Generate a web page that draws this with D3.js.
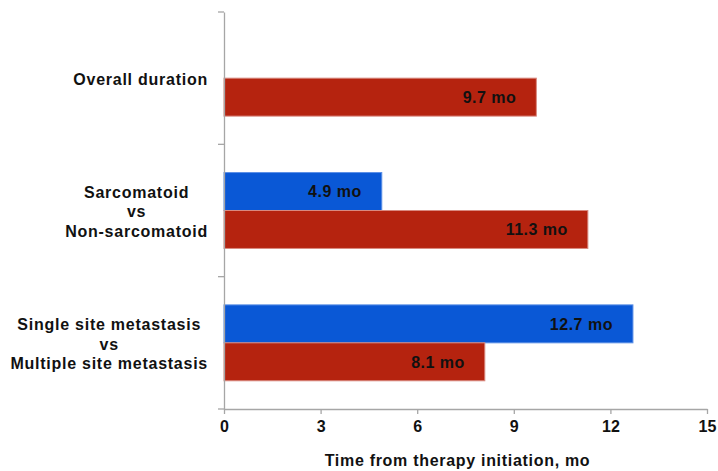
<!DOCTYPE html>
<html>
<head>
<meta charset="utf-8">
<script src="https://cdn.jsdelivr.net/npm/d3@7"></script>
<style>
  body { margin: 0; background: #fff; }
  text { font-family: Arial, "Liberation Sans", sans-serif; font-weight: bold; fill: #111; }
  .axis path, .axis line { stroke: #a6a6a6; stroke-width: 1.3; }
</style>
</head>
<body>
<div id="chart"></div>
<script>
var svgWidth = 718;
var svgHeight = 471;

var margin = { top: 12, right: 11, bottom: 62, left: 224 };

var width = svgWidth - margin.left - margin.right;
var height = svgHeight - margin.top - margin.bottom;

// chart data
var categories = ["Overall duration", "Sarcomatoid vs Non-sarcomatoid", "Single site metastasis vs Multiple site metastasis"];
var categoryLines = [["Overall duration"], ["Sarcomatoid", "vs", "Non-sarcomatoid"], ["Single site metastasis", "vs", "Multiple site metastasis"]];
var seriesNames = ["first", "second"];
var firstValues = [null, 4.9, 12.7];
var secondValues = [9.7, 11.3, 8.1];
var xTicks = [0, 3, 6, 9, 12, 15];
var xTitle = "Time from therapy initiation, mo";

var colors = { first: "#0a58d6", second: "#b5230f" };
var strokes = { first: "#5b8fe6", second: "#d98a80" };

var svg = d3.select("#chart")
  .append("svg")
  .attr("width", svgWidth)
  .attr("height", svgHeight);

var chartGroup = svg.append("g")
  .attr("transform", `translate(${margin.left}, ${margin.top})`);

var xScale = d3.scaleLinear()
  .domain([0, 15])
  .range([0, width]);

var yScale = d3.scaleBand()
  .domain(categories)
  .range([0, height])
  .paddingInner(0.4264)
  .paddingOuter(0.2132);

var subScale = d3.scaleBand()
  .domain(seriesNames)
  .range([0, yScale.bandwidth()]);

// bars
var rows = categories.map(function(c, i) {
  return [
    { cat: c, key: "first", value: firstValues[i] },
    { cat: c, key: "second", value: secondValues[i] }
  ];
});

var groups = chartGroup.selectAll(".cat")
  .data(rows)
  .enter()
  .append("g")
  .attr("class", "cat")
  .attr("transform", (d, i) => `translate(0, ${yScale(categories[i])})`);

var bars = groups.selectAll("g.bar")
  .data(d => d.filter(b => b.value !== null))
  .enter()
  .append("g")
  .attr("class", "bar");

bars.append("rect")
  .attr("x", xScale(0))
  .attr("y", d => subScale(d.key))
  .attr("width", d => xScale(d.value) - xScale(0))
  .attr("height", subScale.bandwidth())
  .attr("fill", d => colors[d.key])
  .attr("stroke", d => strokes[d.key])
  .attr("stroke-width", 1);

bars.append("text")
  .attr("x", d => xScale(d.value) - 20)
  .attr("y", d => subScale(d.key) + subScale.bandwidth() / 2)
  .attr("dy", "0.36em")
  .attr("text-anchor", "end")
  .style("font-size", "16px")
  .style("letter-spacing", "0.5px")
  .text(d => d.value.toFixed(1) + " mo");

// x axis
var bottomAxis = d3.axisBottom(xScale)
  .tickValues(xTicks)
  .tickSize(5)
  .tickSizeOuter(0)
  .tickPadding(7);

var xAxis = chartGroup.append("g")
  .attr("class", "axis")
  .attr("transform", `translate(0, ${height})`)
  .call(bottomAxis);

xAxis.selectAll("text")
  .style("font-size", "16px");

// y axis with ticks at band boundaries
var leftAxis = d3.axisLeft(yScale).tickSize(0).tickSizeOuter(0).tickFormat("");
var yAxis = chartGroup.append("g")
  .attr("class", "axis")
  .call(leftAxis);

var boundaries = [0].concat(categories.map(c => yScale(c) + yScale.bandwidth() + yScale.step() * yScale.paddingInner() / 2));
boundaries[boundaries.length - 1] = height;
yAxis.selectAll(".bound")
  .data(boundaries)
  .enter()
  .append("line")
  .attr("class", "bound")
  .attr("x1", -6)
  .attr("x2", 0)
  .attr("y1", d => d)
  .attr("y2", d => d);

// category labels: block right aligned, lines centered
var lineHeight = 19.5;
var labelRight = -16;
categoryLines.forEach(function(lines, i) {
  var g = chartGroup.append("g");
  var cy = yScale(categories[i]) + yScale.bandwidth() / 2 + 1;
  var texts = g.selectAll("text")
    .data(lines)
    .enter()
    .append("text")
    .attr("y", (d, j) => cy + (j - (lines.length - 1) / 2) * lineHeight)
    .attr("dy", "0.36em")
    .attr("text-anchor", "middle")
    .style("font-size", "16px")
    .style("letter-spacing", "0.75px")
    .text(d => d);
  var maxW = d3.max(texts.nodes(), n => n.getComputedTextLength());
  texts.attr("x", labelRight - maxW / 2);
});

// x axis title
chartGroup.append("text")
  .attr("x", width / 2 - 8)
  .attr("y", height + 57)
  .attr("text-anchor", "middle")
  .style("font-size", "16px")
  .style("letter-spacing", "0.7px")
  .text(xTitle);
</script>
</body>
</html>
